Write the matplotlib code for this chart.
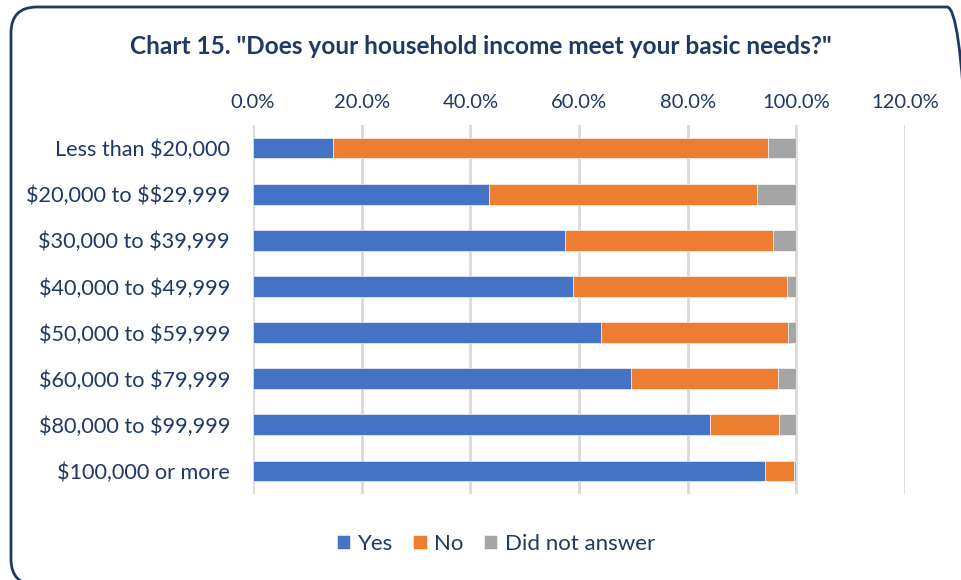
import matplotlib.pyplot as plt
from matplotlib.patches import FancyBboxPatch
from matplotlib.transforms import IdentityTransform
from matplotlib.ticker import PercentFormatter

plt.rcParams['font.family'] = ['Lato', 'DejaVu Sans']
plt.rcParams['text.parse_math'] = False

NAVY = '#1F3864'

# income brackets and response shares (percent)
categories = ['Less than $20,000', '$20,000 to $$29,999', '$30,000 to $39,999',
              '$40,000 to $49,999', '$50,000 to $59,999', '$60,000 to $79,999',
              '$80,000 to $99,999', '$100,000 or more']
yes = [14.7, 43.5, 57.4, 58.9, 64.1, 69.6, 84.2, 94.2]
no = [80.1, 49.2, 38.3, 39.3, 34.3, 27.1, 12.6, 5.3]
no_answer = [5.2, 7.3, 4.3, 1.8, 1.6, 3.3, 3.2, 0.5]
series_names = ['Yes', 'No', 'Did not answer']
colors = ['#4472C4', '#ED7D31', '#A5A5A5']

fig = plt.figure(figsize=(9.61, 5.8), dpi=100)
ax = fig.add_axes([253 / 961, 1 - 494 / 580, (905 - 253) / 961, (494 - 125) / 580])

# rounded frame around the chart (pixel coordinates, origin bottom-left)
frame = FancyBboxPatch((11, -5), 962, 580 - 7 + 5,
                       boxstyle='round,pad=0,rounding_size=26',
                       transform=IdentityTransform(), fill=False,
                       edgecolor=NAVY, linewidth=2)
fig.patches.append(frame)

y = list(range(len(categories)))
left = [0] * len(categories)
for vals, name, col in zip([yes, no, no_answer], series_names, colors):
    ax.barh(y, vals, left=left, height=0.45, color=col, label=name,
            edgecolor='white', linewidth=0.4, zorder=3)
    left = [a + b for a, b in zip(left, vals)]

ax.set_xlim(0, 120)
ax.set_ylim(7.5, -0.5)
ax.set_xticks(range(0, 121, 20))
ax.xaxis.set_major_formatter(PercentFormatter(decimals=1))
ax.set_yticks(y)
ax.set_yticklabels(categories)
ax.xaxis.tick_top()
ax.tick_params(axis='both', length=0, labelcolor=NAVY)
ax.tick_params(axis='x', pad=10, labelsize=14.5)
ax.tick_params(axis='y', pad=16.5, labelsize=15.6)
ax.grid(axis='x', color='#D9D9D9', linewidth=2, zorder=0)
for s in ax.spines.values():
    s.set_visible(False)

fig.text(0.5, 1 - 46 / 580, 'Chart 15. "Does your household income meet your basic needs?"',
         ha='center', va='center', fontsize=17.6, fontweight='bold', color=NAVY)

leg = fig.legend(loc='center', bbox_to_anchor=(496 / 961, 1 - 544 / 580), ncol=3,
                 frameon=False, fontsize=16, handlelength=0.6, handleheight=0.6,
                 handletextpad=0.35, columnspacing=0.9)
for t in leg.get_texts():
    t.set_color(NAVY)

fig.savefig('out.png', dpi=100)
